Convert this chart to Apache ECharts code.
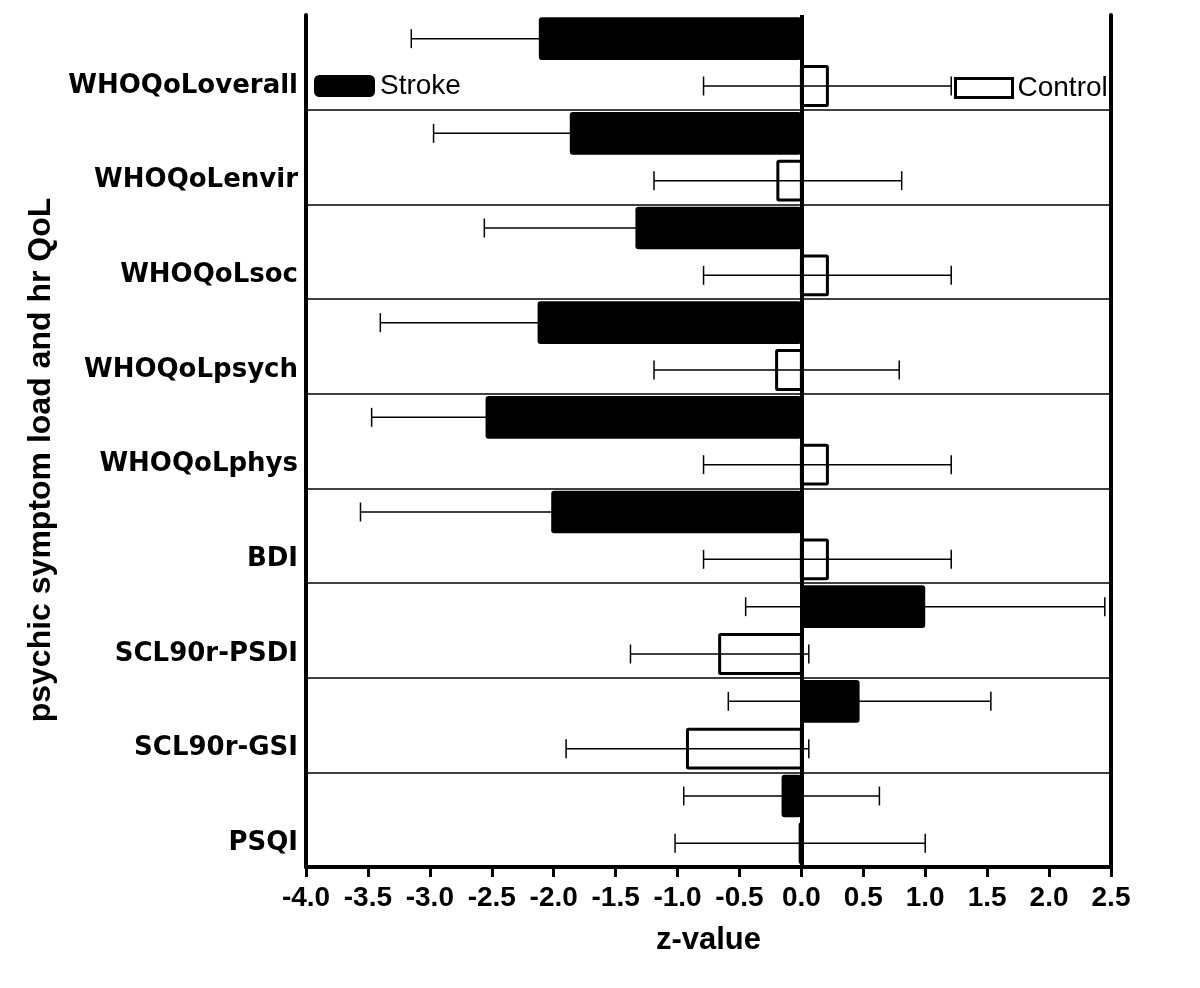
<!DOCTYPE html>
<html><head><meta charset="utf-8">
<script src="https://cdn.jsdelivr.net/npm/echarts@6/dist/echarts.min.js"></script>
<style>html,body{margin:0;padding:0;background:#fff}#chart{width:1200px;height:988px}</style>
</head><body><div id="chart"></div>
<script>
const categories = ['WHOQoLoverall','WHOQoLenvir','WHOQoLsoc','WHOQoLpsych','WHOQoLphys','BDI','SCL90r-PSDI','SCL90r-GSI','PSQI'];
const strokeMean = [-2.12, -1.87, -1.34, -2.13, -2.55, -2.02, 1.00, 0.47, -0.16];
const strokeErr  = [1.03, 1.10, 1.22, 1.27, 0.92, 1.54, 1.45, 1.06, 0.79];
const controlMean = [0.21, -0.19, 0.21, -0.20, 0.21, 0.21, -0.66, -0.92, -0.01];
const controlErr  = [1.00, 1.00, 1.00, 0.99, 1.00, 1.00, 0.72, 0.98, 1.01];
const xMin = -4.0, xMax = 2.5, xStep = 0.5;
const xTitle = 'z-value';
const yTitle = 'psychic symptom load and hr QoL';
const seriesNames = ['Stroke', 'Control'];

// two slots per category: upper = Stroke, lower = Control (label shown on lower)
const slotNames = [];
categories.forEach(c => { slotNames.push('Stroke|' + c); slotNames.push(c); });
const strokeData = categories.map((c, i) => [strokeMean[i], 2 * i, strokeErr[i]]);
const controlData = categories.map((c, i) => [controlMean[i], 2 * i + 1, controlErr[i]]);

function makeRender(filled) {
  return function (params, api) {
    const v = api.value(0), slot = api.value(1), e = api.value(2);
    const p0 = api.coord([0, slot]);
    const pv = api.coord([v, slot]);
    const pl = api.coord([v - e, slot]);
    const pr = api.coord([v + e, slot]);
    const band = api.size([0, 1])[1];
    const h = band * (filled ? 0.9 : 0.82);
    const cap = band * 0.2;
    const y = p0[1];
    const x1 = Math.min(p0[0], pv[0]), w = Math.abs(pv[0] - p0[0]);
    const ls = { stroke: '#000', lineWidth: 1.5 };
    return {
      type: 'group',
      children: [
        { type: 'line', shape: { x1: pl[0], y1: y, x2: pr[0], y2: y }, style: ls },
        { type: 'line', shape: { x1: pl[0], y1: y - cap, x2: pl[0], y2: y + cap }, style: ls },
        { type: 'line', shape: { x1: pr[0], y1: y - cap, x2: pr[0], y2: y + cap }, style: ls },
        filled
          ? { type: 'rect', shape: { x: x1, y: y - h / 2, width: w, height: h, r: 3 }, style: { fill: '#000' } }
          : { type: 'rect', shape: { x: x1, y: y - h / 2, width: w, height: h, r: 1 }, style: { fill: 'none', stroke: '#000', lineWidth: 3 } }
      ]
    };
  };
}

const chart = echarts.init(document.getElementById('chart'), null, { renderer: 'canvas' });
chart.setOption({
  animation: false,
  backgroundColor: '#fff',
  grid: { left: 306, right: 89, top: 15, bottom: 121 },
  legend: [
    { left: 314, top: 72, padding: 0, itemWidth: 61, itemHeight: 22, selectedMode: false,
      data: [{ name: seriesNames[0], icon: 'roundRect', itemStyle: { color: '#000' } }],
      textStyle: { fontFamily: 'Liberation Sans', fontSize: 28, color: '#000' } },
    { left: 954, top: 74, padding: 0, itemWidth: 57, itemHeight: 19, selectedMode: false,
      data: [{ name: seriesNames[1], icon: 'rect', itemStyle: { color: '#fff', borderColor: '#000', borderWidth: 3 } }],
      textStyle: { fontFamily: 'Liberation Sans', fontSize: 28, color: '#000' } }
  ],
  xAxis: {
    type: 'value', min: xMin, max: xMax, interval: xStep, position: 'bottom',
    axisLine: { show: true, onZero: false, lineStyle: { color: '#000', width: 4 } },
    axisTick: { show: true, length: 10, lineStyle: { color: '#000', width: 3 } },
    axisLabel: { formatter: v => v.toFixed(1), fontFamily: 'Liberation Sans', fontWeight: 'bold', fontSize: 28, color: '#000', margin: 17 },
    splitLine: { show: false },
    name: xTitle, nameLocation: 'middle', nameGap: 58,
    nameTextStyle: { fontFamily: 'Liberation Sans', fontWeight: 'bold', fontSize: 31, color: '#000' }
  },
  yAxis: [
    {
      type: 'category', data: slotNames, inverse: true, position: 'left',
      axisLine: { show: true, onZero: false, lineStyle: { color: '#000', width: 4 } },
      axisTick: { show: false },
      axisLabel: { interval: 0, formatter: v => v.startsWith('Stroke|') ? '' : v, fontFamily: 'DejaVu Sans', fontWeight: 'bold', fontSize: 26, color: '#000', margin: 8 },
      splitLine: { show: true, interval: (i) => i % 2 === 0 && i > 0, lineStyle: { color: '#000', width: 1.5 } },
      name: yTitle, nameLocation: 'middle', nameGap: 240, nameRotate: 90,
      nameTextStyle: { fontFamily: 'Liberation Sans', fontWeight: 'bold', fontSize: 32, color: '#000', padding: [0, 38, 0, 0] }
    },
    {
      type: 'category', data: slotNames, inverse: true, position: 'right',
      axisLine: { show: true, onZero: false, lineStyle: { color: '#000', width: 4 } },
      axisTick: { show: false }, axisLabel: { show: false }, splitLine: { show: false }
    }
  ],
  series: [
    { name: seriesNames[0], type: 'custom', xAxisIndex: 0, yAxisIndex: 0, data: strokeData,
      encode: { x: 0, y: 1 }, renderItem: makeRender(true), itemStyle: { color: '#000' }, z: 3,
      markLine: { silent: true, symbol: ['none', 'none'], label: { show: false },
        lineStyle: { color: '#000', width: 4, type: 'solid' }, data: [{ xAxis: 0 }] } },
    { name: seriesNames[1], type: 'custom', xAxisIndex: 0, yAxisIndex: 0, data: controlData,
      encode: { x: 0, y: 1 }, renderItem: makeRender(false), itemStyle: { color: '#fff', borderColor: '#000' }, z: 3 }
  ]
});
</script></body></html>
